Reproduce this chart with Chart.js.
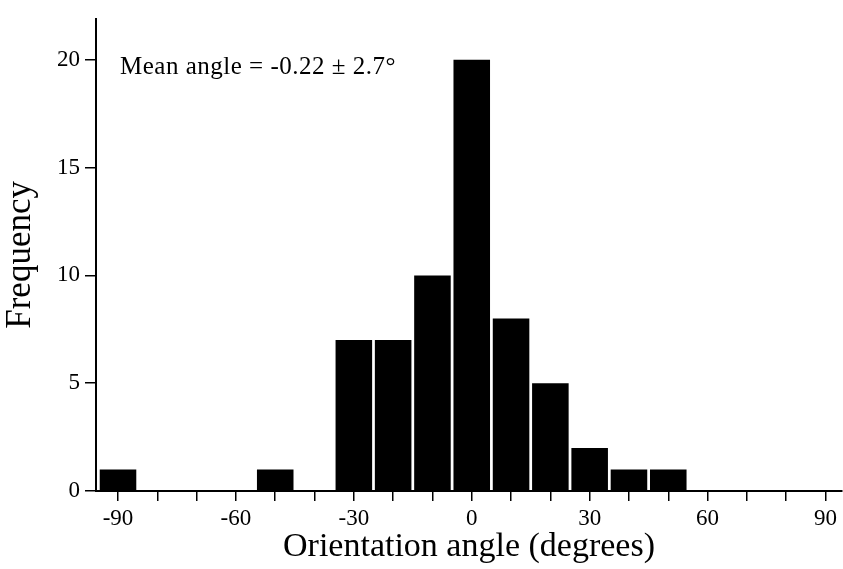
<!DOCTYPE html>
<html>
<head>
<meta charset="utf-8">
<script src="https://cdn.jsdelivr.net/npm/chart.js@4.4.1/dist/chart.umd.min.js"></script>
<style>
  html, body { margin: 0; padding: 0; background: #ffffff; }
  #wrap { width: 843px; height: 569px; position: relative; }
</style>
</head>
<body>
<div id="wrap"><canvas id="c"></canvas></div>
<script>
// ---- data ----
const binCenters = [-90, -80, -70, -60, -50, -40, -30, -20, -10, 0, 10, 20, 30, 40, 50, 60, 70, 80, 90];
const frequencies = [1, 0, 0, 0, 1, 0, 7, 7, 10, 20, 8, 5, 2, 1, 1, 0, 0, 0, 0];
const xTickValues = [-90, -80, -70, -60, -50, -40, -30, -20, -10, 0, 10, 20, 30, 40, 50, 60, 70, 80, 90];
const xLabelValues = [-90, -60, -30, 0, 30, 60, 90];
const yTickValues = [0, 5, 10, 15, 20];
const xTitle = 'Orientation angle (degrees)';
const yTitle = 'Frequency';
const annotationText = 'Mean angle = -0.22 \u00B1 2.7\u00B0';

const FONT = '"Liberation Serif", "Times New Roman", serif';

const annotationPlugin = {
  id: 'meanAnnotation',
  afterDraw(chart) {
    const { ctx, chartArea } = chart;
    ctx.save();
    ctx.font = '25px ' + FONT;
    try { ctx.letterSpacing = '0.5px'; } catch (e) {}
    ctx.fillStyle = '#000';
    ctx.textBaseline = 'alphabetic';
    ctx.textAlign = 'left';
    ctx.fillText(annotationText, chartArea.left + 24, chartArea.top + 55);
    ctx.restore();
  }
};

new Chart(document.getElementById('c'), {
  type: 'bar',
  data: {
    datasets: [{
      data: binCenters.map((x, i) => ({ x: x, y: frequencies[i] })),
      backgroundColor: '#000',
      borderWidth: 0,
      barPercentage: 0.93,
      categoryPercentage: 1.0
    }]
  },
  options: {
    responsive: true,
    maintainAspectRatio: false,
    animation: false,
    layout: { padding: { top: 10, right: 1, left: 0, bottom: 0 } },
    plugins: { legend: { display: false }, tooltip: { enabled: false } },
    scales: {
      x: {
        type: 'linear',
        offset: false,
        min: -95.6,
        max: 94.2,
        afterBuildTicks: s => { s.ticks = xTickValues.map(v => ({ value: v })); },
        afterFit: s => { s.height = 78; },
        ticks: {
          autoSkip: false,
          maxRotation: 0,
          padding: 4,
          color: '#000',
          font: { family: FONT, size: 23 },
          callback: v => xLabelValues.includes(v) ? String(v) : ''
        },
        grid: { offset: false, drawOnChartArea: false, drawTicks: true, tickLength: 10, color: '#000', lineWidth: 1.5 },
        border: { display: true, color: '#000', width: 2 },
        title: { display: true, text: xTitle, color: '#000', font: { family: FONT, size: 34 }, padding: { top: 0, bottom: 2 } }
      },
      y: {
        type: 'linear',
        min: 0,
        max: 21.9,
        afterBuildTicks: s => { s.ticks = yTickValues.map(v => ({ value: v })); },
        afterFit: s => { s.width = 96; },
        ticks: {
          padding: 5,
          color: '#000',
          font: { family: FONT, size: 23 },
          callback: v => String(v)
        },
        grid: { drawOnChartArea: false, drawTicks: true, tickLength: 11, color: '#000', lineWidth: 1.5 },
        border: { display: true, color: '#000', width: 2 },
        title: { display: true, text: yTitle, color: '#000', font: { family: FONT, size: 35 }, padding: { top: 0, bottom: 0 } }
      }
    }
  },
  plugins: [annotationPlugin]
});
</script>
</body>
</html>
